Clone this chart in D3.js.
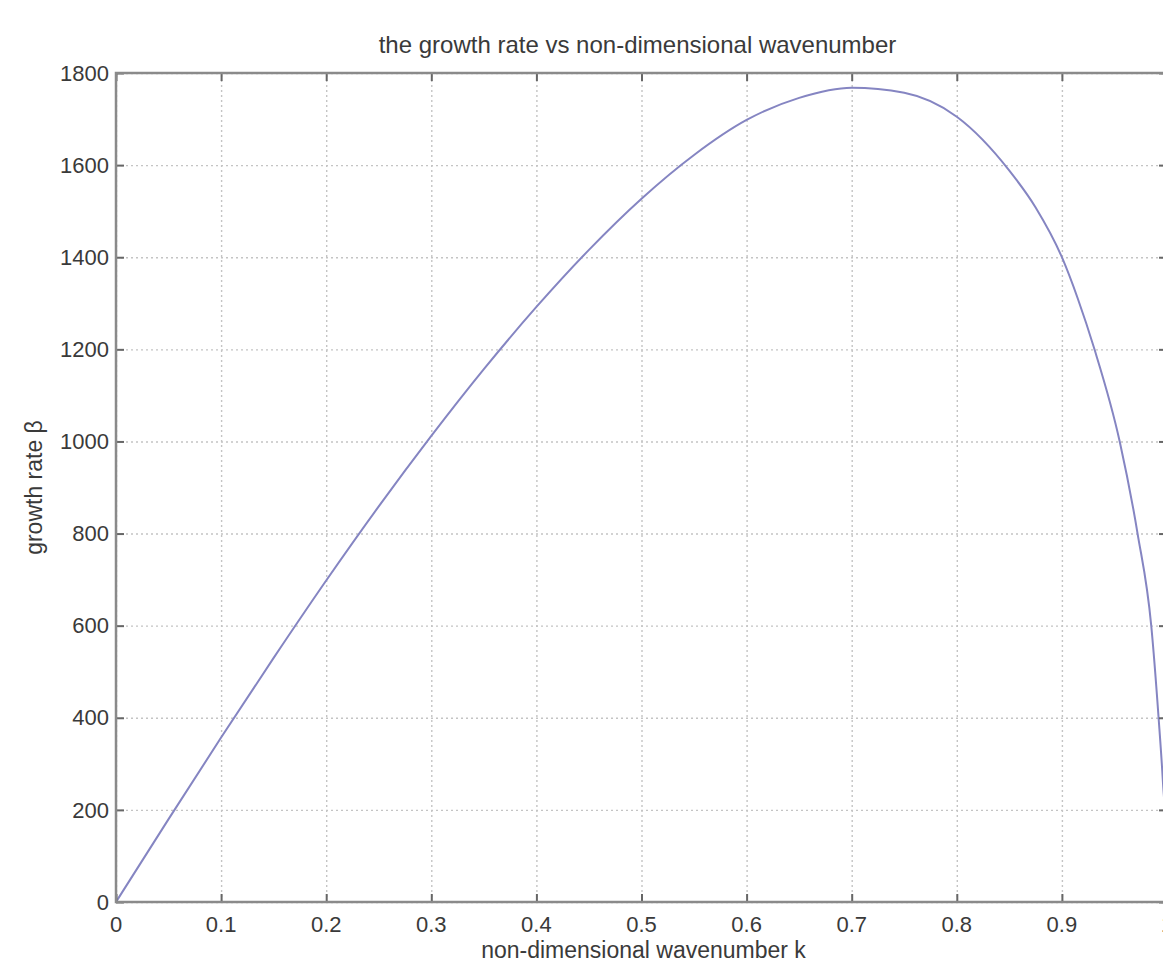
<!DOCTYPE html>
<meta charset="utf-8">
<style>
    body { margin: 0; background: #fff; }
    svg { display: block; }
    .grid line { stroke: #c4c4c4; stroke-width: 1.4; stroke-dasharray: 2,3; }
    .grid path { display: none; }
    .frame line { stroke: #666; stroke-width: 2; }
    .frame path { display: none; }
    text { fill: #3a3a3a; font-family: "Liberation Sans", Arial, sans-serif; }
</style>
<svg width="1163" height="963"></svg>
<script src="https://cdn.jsdelivr.net/npm/d3@7"></script>
<script>

    // wavenumber k and growth rate
    var k = [0, 0.05, 0.1, 0.15, 0.2, 0.25, 0.3, 0.35, 0.4, 0.45, 0.5, 0.55, 0.6, 0.65, 0.7, 0.75, 0.8, 0.85, 0.875, 0.9, 0.915, 0.931, 0.955, 0.972, 0.985, 0.992, 0.996, 0.999, 1.0];
    var beta = [0, 180, 357, 530, 698, 859, 1012, 1157, 1292, 1416, 1527, 1622, 1698, 1746, 1768, 1757, 1705, 1588, 1508, 1400, 1311, 1200, 1000, 800, 600, 400, 265, 130, 0];

    var xTicks = [0, 0.1, 0.2, 0.3, 0.4, 0.5, 0.6, 0.7, 0.8, 0.9, 1];
    var xTickLabels = ["0", "0.1", "0.2", "0.3", "0.4", "0.5", "0.6", "0.7", "0.8", "0.9", "1"];
    var yTicks = [0, 200, 400, 600, 800, 1000, 1200, 1400, 1600, 1800];

    var svg = d3.select("svg"),
        plotL = 116, plotR = 1167, plotT = 73, plotB = 902;

    var x = d3.scaleLinear().domain([0, 1]).range([plotL, plotR]);
    var y = d3.scaleLinear().domain([0, 1800]).range([plotB, plotT]);

    // dotted grid
    svg.append("g")
        .attr("class", "grid")
        .attr("transform", "translate(0," + plotB + ")")
        .call(d3.axisBottom(x).tickValues(xTicks).tickSize(-(plotB - plotT)).tickFormat(""));
    svg.append("g")
        .attr("class", "grid")
        .attr("transform", "translate(" + plotL + ",0)")
        .call(d3.axisLeft(y).tickValues(yTicks).tickSize(-(plotR - plotL)).tickFormat(""));

    // the curve
    var pts = k.map(function (d, i) { return [d, beta[i]]; });
    svg.append("path")
        .datum(pts)
        .attr("fill", "none")
        .attr("stroke", "#8585c2")
        .attr("stroke-width", 2)
        .attr("d", d3.line()
            .x(function (d) { return x(d[0]); })
            .y(function (d) { return y(d[1]); })
            .curve(d3.curveMonotoneX));

    // inward ticks on all four sides
    svg.append("g").attr("class", "frame")
        .attr("transform", "translate(0," + plotB + ")")
        .call(d3.axisBottom(x).tickValues(xTicks).tickSize(-8).tickFormat(""));
    svg.append("g").attr("class", "frame")
        .attr("transform", "translate(0," + plotT + ")")
        .call(d3.axisTop(x).tickValues(xTicks).tickSize(-8).tickFormat(""));
    svg.append("g").attr("class", "frame")
        .attr("transform", "translate(" + plotL + ",0)")
        .call(d3.axisLeft(y).tickValues(yTicks).tickSize(-8).tickFormat(""));
    svg.append("g").attr("class", "frame")
        .attr("transform", "translate(" + plotR + ",0)")
        .call(d3.axisRight(y).tickValues(yTicks).tickSize(-8).tickFormat(""));

    // box
    svg.append("rect")
        .attr("x", plotL).attr("y", plotT)
        .attr("width", plotR - plotL).attr("height", plotB - plotT)
        .attr("fill", "none")
        .attr("stroke", "#8a8a8a")
        .attr("stroke-width", 2.5);

    // tick labels
    svg.append("g").selectAll("text")
        .data(xTicks)
        .enter().append("text")
        .attr("x", function (d) { return x(d); })
        .attr("y", 932)
        .attr("text-anchor", "middle")
        .attr("font-size", 22)
        .text(function (d, i) { return xTickLabels[i]; });

    svg.append("g").selectAll("text")
        .data(yTicks)
        .enter().append("text")
        .attr("x", plotL - 7)
        .attr("y", function (d) { return y(d); })
        .attr("dy", "0.35em")
        .attr("text-anchor", "end")
        .attr("font-size", 22)
        .text(function (d) { return d; });

    // titles
    svg.append("text")
        .attr("x", (plotL + plotR) / 2 - 4)
        .attr("y", 53)
        .attr("text-anchor", "middle")
        .attr("font-size", 24)
        .text("the growth rate vs non-dimensional wavenumber");

    svg.append("text")
        .attr("x", (plotL + plotR) / 2 + 2)
        .attr("y", 958)
        .attr("text-anchor", "middle")
        .attr("font-size", 23)
        .text("non-dimensional wavenumber k");

    svg.append("text")
        .attr("transform", "translate(42," + (plotT + plotB) / 2 + ")rotate(-90)")
        .attr("text-anchor", "middle")
        .attr("font-size", 23)
        .text("growth rate β");
</script>
